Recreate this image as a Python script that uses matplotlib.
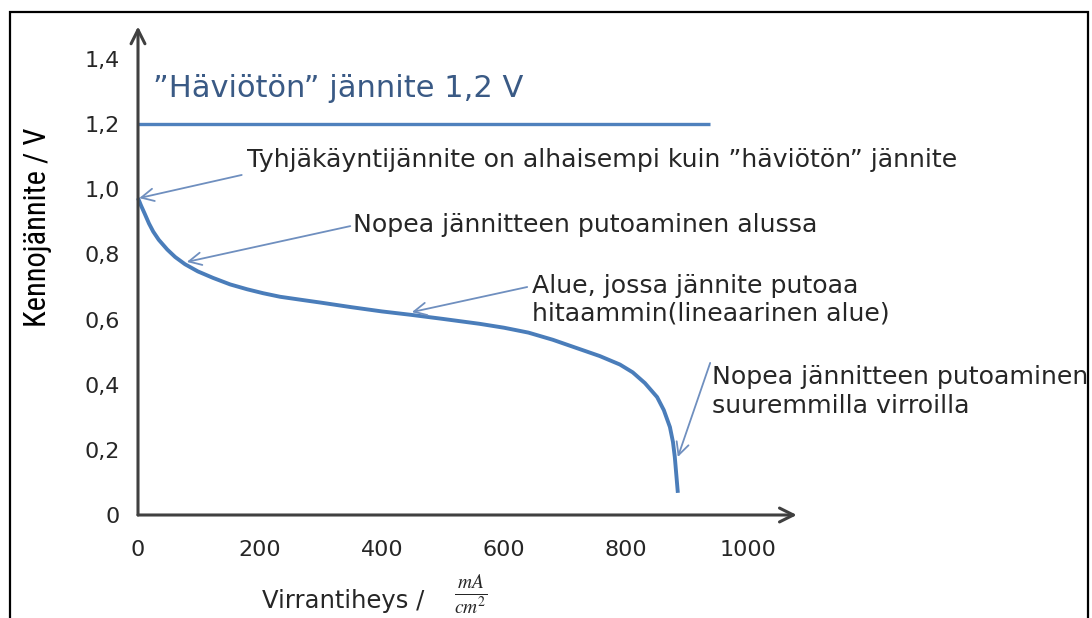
import matplotlib
matplotlib.use("Agg")
import matplotlib.pyplot as plt
from matplotlib.patches import Rectangle
from matplotlib import font_manager

# ---- data ----
current = [0, 5, 11, 18, 25, 34, 48, 61, 77, 98, 123, 151, 179, 205, 233, 270,
           300, 350, 400, 450, 500, 560, 600, 640, 680, 720, 757, 790, 811,
           831, 851, 862, 872, 877, 880, 885]                  # mA/cm^2
voltage = [0.973, 0.950, 0.925, 0.895, 0.870, 0.845, 0.815, 0.792, 0.770,
           0.748, 0.728, 0.708, 0.693, 0.681, 0.670, 0.660, 0.652, 0.638,
           0.625, 0.614, 0.602, 0.587, 0.575, 0.560, 0.538, 0.512, 0.488,
           0.462, 0.438, 0.405, 0.362, 0.322, 0.270, 0.224, 0.178, 0.068]  # V
lossless_voltage = 1.2
lossless_end = 938
x_ticks = [0, 200, 400, 600, 800, 1000]
x_tick_labels = ["0", "200", "400", "600", "800", "1000"]
y_ticks = [0, 0.2, 0.4, 0.6, 0.8, 1.0, 1.2, 1.4]
y_tick_labels = ["0", "0,2", "0,4", "0,6", "0,8", "1,0", "1,2", "1,4"]

title_text = "”Häviötön” jännite 1,2 V"
note_ocv = "Tyhjäkäyntijännite on alhaisempi kuin ”häviötön” jännite"
note_start = "Nopea jännitteen putoaminen alussa"
note_linear = "Alue, jossa jännite putoaa\nhitaammin(lineaarinen alue)"
note_end = "Nopea jännitteen putoaminen\nsuuremmilla virroilla"
y_label = "Kennojännite / V"
x_label = "Virrantiheys /"
x_unit = r"$\frac{mA}{cm^2}$"

# ---- figure ----
plt.rcParams["font.family"] = ["DejaVu Sans"]
plt.rcParams["mathtext.fontset"] = "stix"

available = {f.name for f in font_manager.fontManager.ttflist}
narrow = next((n for n in ["Liberation Sans Narrow", "Roboto Condensed",
                           "Open Sans Condensed", "Roboto"] if n in available),
              "DejaVu Sans")

W, H = 1092, 618
fig = plt.figure(figsize=(W / 100, H / 100), dpi=100)
x0px, y0px, sx, sy = 138, 515, 0.61, 325.7
xmax, ymax = 1080, 1.5
ax = fig.add_axes([x0px / W, (H - y0px) / H, xmax * sx / W, ymax * sy / H])
ax.set_xlim(0, xmax)
ax.set_ylim(0, ymax)
ax.patch.set_alpha(0)
for s in ax.spines.values():
    s.set_visible(False)

txt = "#262626"
ax.set_xticks(x_ticks)
ax.set_xticklabels(x_tick_labels, fontsize=16, color=txt)
ax.set_yticks(y_ticks)
ax.set_yticklabels(y_tick_labels, fontsize=16, color=txt)
ax.tick_params(axis="x", length=0, pad=18)
ax.tick_params(axis="y", length=0, pad=13)

axis_col = "#404040"
arrow_axis = dict(arrowstyle="->,head_length=1.0,head_width=0.5", color=axis_col,
                  lw=2.2, shrinkA=0, shrinkB=0)
ax.annotate("", xy=(xmax, 0), xytext=(0, 0), arrowprops=arrow_axis,
            annotation_clip=False)
ax.annotate("", xy=(0, ymax), xytext=(0, 0), arrowprops=arrow_axis,
            annotation_clip=False)

# lossless line
ax.plot([0, lossless_end], [lossless_voltage, lossless_voltage],
        color="#4F81BD", lw=2.4, solid_capstyle="butt", clip_on=False)
ax.text(25, 1.311, title_text, fontsize=22, color="#3A5A85", va="center")

# polarisation curve
ax.plot(current, voltage, color="#4A7DBA", lw=2.8, solid_capstyle="butt",
        solid_joinstyle="round", clip_on=False)

# annotations
acol = "#6F8FBF"
aprops = dict(arrowstyle="->,head_length=0.9,head_width=0.45", color=acol,
              lw=1.3, shrinkA=0, shrinkB=0)
fs = 18.2
ax.annotate("", xy=(current[0] + 2, voltage[0]), xytext=(170, 1.044), arrowprops=aprops)
ax.text(179, 1.09, note_ocv, fontsize=fs, color=txt, va="center")

ax.annotate("", xy=(80, 0.777), xytext=(348, 0.887), arrowprops=aprops)
ax.text(352, 0.89, note_start, fontsize=fs, color=txt, va="center")

ax.annotate("", xy=(449, 0.623), xytext=(638, 0.70), arrowprops=aprops)
ax.text(646, 0.66, note_linear, fontsize=fs, color=txt, va="center",
        linespacing=1.2)

ax.annotate("", xy=(885, 0.178), xytext=(938, 0.467), arrowprops=aprops,
            annotation_clip=False)
t_end = ax.text(941, 0.379, note_end, fontsize=fs, color=txt, va="center",
                linespacing=1.25)
clip_rect = Rectangle((0, 0), 1088 / W, 1, transform=fig.transFigure)
t_end.set_clip_path(clip_rect)
t_end.set_clip_on(True)

# axis titles
fig.text(38 / W, 1 - 227 / H, y_label, rotation=90, fontsize=22, color="black",
         ha="center", va="center", family=[narrow, "DejaVu Sans"])
fig.text(262 / W, 1 - 601 / H, x_label, fontsize=17.5, color=txt, ha="left",
         va="center")
fig.text(471 / W, 1 - 596 / H, x_unit, fontsize=20, color=txt, ha="center",
         va="center")

# outer frame
fig.patches.append(Rectangle((10 / W, -0.01), (1088 - 10) / W, (H - 12) / H + 0.01,
                             transform=fig.transFigure, fill=False,
                             ec="black", lw=1.6))

fig.savefig("out.png", dpi=100)
